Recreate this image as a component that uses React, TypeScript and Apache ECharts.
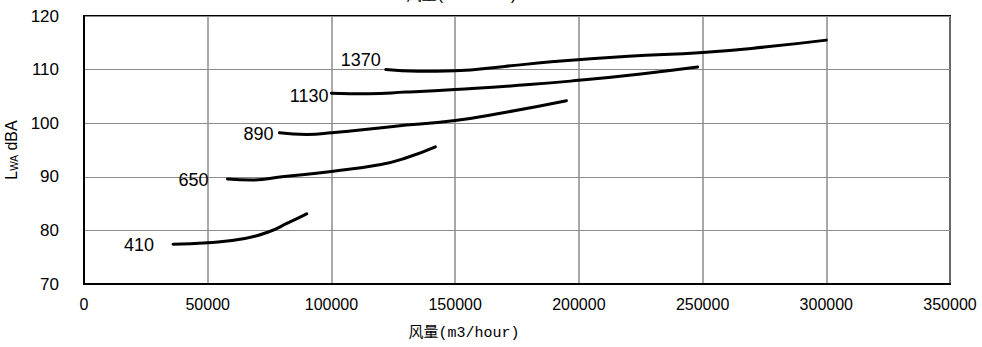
import React, { useEffect, useRef } from "react";
import * as echarts from "echarts";

const xTicks = [0, 50000, 100000, 150000, 200000, 250000, 300000, 350000];
const yTicks = [70, 80, 90, 100, 110, 120];
const axisTitleX = "风量(m3/hour)";
const axisTitleY = "L{sub|WA} dBA";

const curveNames = ["410", "650", "890", "1130", "1370"];

const curve410: [number, number][] = [
  [36000, 77.4], [50000, 77.7], [65000, 78.5], [75000, 79.8], [82000, 81.3], [90000, 83.1],
];
const curve650: [number, number][] = [
  [58000, 89.6], [68000, 89.4], [80000, 90.0], [100000, 91.0], [120000, 92.3], [130000, 93.5], [142000, 95.6],
];
const curve890: [number, number][] = [
  [79000, 98.2], [90000, 97.9], [100000, 98.2], [125000, 99.4], [150000, 100.5], [170000, 102.0], [195000, 104.2],
];
const curve1130: [number, number][] = [
  [100000, 105.6], [115000, 105.5], [130000, 105.8], [150000, 106.3], [180000, 107.2], [200000, 108.0], [225000, 109.2], [248000, 110.5],
];
const curve1370: [number, number][] = [
  [122000, 110.0], [135000, 109.7], [150000, 109.8], [170000, 110.6], [190000, 111.5], [220000, 112.5], [250000, 113.2], [275000, 114.2], [300000, 115.5],
];

const curves = [curve410, curve650, curve890, curve1130, curve1370];
const labelDistance = [19, 19, 6, 3, 5];
const labelDy = [1, 1, 1, 3, -10];

const FONT = "'Liberation Sans', Arial, sans-serif";
const MONO_CJK = "'Liberation Mono', 'Noto Sans CJK SC', monospace";

export default function App() {
  const ref = useRef<HTMLDivElement>(null);
  useEffect(() => {
    document.body.style.margin = "0";
    if (!ref.current) return;
    const chart = echarts.init(ref.current, null, { renderer: "svg" });
    const lineSeries = curves.map((c, i) => ({
      type: "line",
      name: curveNames[i],
      smooth: true,
      showSymbol: false,
      symbol: "none",
      lineStyle: { color: "#000", width: 3, cap: "round" },
      data: c,
    }));
    const labelSeries = {
      type: "scatter",
      symbolSize: 0,
      silent: true,
      itemStyle: { opacity: 1, color: "#000" },
      data: curves.map((c, i) => ({
        value: c[0],
        label: {
          show: true,
          formatter: curveNames[i],
          position: "left",
          distance: labelDistance[i],
          offset: [0, labelDy[i]],
          color: "#000",
          fontSize: 18,
          fontFamily: FONT,
        },
      })),
    };
    chart.setOption({
      animation: false,
      backgroundColor: "#fff",
      grid: {
        left: 84,
        right: 32,
        top: 16,
        bottom: 63,
        show: true,
        borderColor: "#000",
        borderWidth: 2,
        containLabel: false,
        outerBoundsMode: "none",
      },
      xAxis: {
        type: "value",
        min: xTicks[0],
        max: xTicks[xTicks.length - 1],
        interval: 50000,
        axisLine: { show: true, lineStyle: { color: "#000", width: 2 } },
        axisTick: { show: false },
        axisLabel: { color: "#000", fontSize: 16, fontFamily: FONT, margin: 12, formatter: (v: number) => String(v) },
        splitLine: { show: true, lineStyle: { color: "#8c8c8c", width: 1.5 } },
      },
      yAxis: {
        type: "value",
        min: yTicks[0],
        max: yTicks[yTicks.length - 1],
        interval: 10,
        axisLine: { show: true, lineStyle: { color: "#000", width: 2 } },
        axisTick: { show: false },
        axisLabel: { color: "#000", fontSize: 17, fontFamily: FONT, margin: 25, formatter: (v: number) => String(v) },
        splitLine: { show: true, lineStyle: { color: "#8c8c8c", width: 1.2 } },
        name: axisTitleY,
        nameLocation: "middle",
        nameGap: 59,
        nameRotate: 90,
        nameTextStyle: {
          color: "#000",
          fontSize: 16,
          fontFamily: FONT,
          rich: {
            sub: { fontSize: 10, fontFamily: FONT, color: "#000", verticalAlign: "bottom", padding: [6, 0, 0, 0] },
          },
        },
      },
      graphic: [
        {
          type: "text",
          x: 462,
          y: -4,
          style: {
            text: axisTitleX,
            fill: "#000",
            font: `15px ${MONO_CJK}`,
            textAlign: "center",
            textVerticalAlign: "middle",
          },
        },
        {
          type: "text",
          x: 464,
          y: 333,
          style: {
            text: axisTitleX,
            fill: "#000",
            font: `15px ${MONO_CJK}`,
            textAlign: "center",
            textVerticalAlign: "middle",
          },
        },
      ],
      series: [...lineSeries, labelSeries],
    });
    return () => chart.dispose();
  }, []);
  return <div ref={ref} style={{ width: 982, height: 347 }} />;
}
